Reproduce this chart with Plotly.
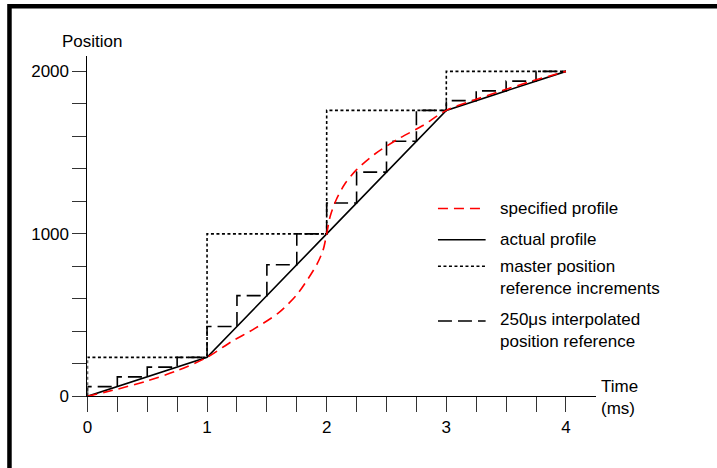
import plotly.graph_objects as go

# ---- data ----
ms_points = [0, 1, 2, 3, 4]
actual_pos = [0, 240, 1000, 1760, 2000]

interp_t = [0, 0.25, 0.5, 0.75, 1.0, 1.25, 1.5, 1.75, 2.0, 2.25, 2.5, 2.75, 3.0, 3.25, 3.5, 3.75, 4.0]
interp_pos = [0, 60, 120, 180, 240, 430, 620, 810, 1000, 1190, 1380, 1570, 1760, 1820, 1880, 1940, 2000]

spec_t = [0, 0.25, 0.5, 0.75, 1.0, 1.2, 1.4, 1.6, 1.75, 1.85, 1.92, 1.97, 2.0,
          2.03, 2.08, 2.15, 2.25, 2.4, 2.6, 2.8, 3.0, 3.25, 3.5, 3.75, 4.0]
spec_pos = [0, 44, 95, 158, 240, 335, 418, 515, 625, 730, 815, 900, 1000,
            1110, 1210, 1305, 1395, 1490, 1585, 1665, 1760, 1828, 1890, 1948, 2000]

x_tick_vals = [0, 0.25, 0.5, 0.75, 1, 1.25, 1.5, 1.75, 2, 2.25, 2.5, 2.75, 3, 3.25, 3.5, 3.75, 4]
x_tick_text = ["0", "", "", "", "1", "", "", "", "2", "", "", "", "3", "", "", "", "4"]
y_tick_vals = [0, 200, 400, 600, 800, 1000, 1200, 1400, 1600, 1800, 2000]
y_tick_text = ["0", "", "", "", "", "1000", "", "", "", "", "2000"]

legend_labels = ["specified profile", "actual profile", "master position<br>reference increments",
                 "250\u03bcs interpolated<br>position reference"]

W, H = 717, 468
FONT = "Liberation Sans, Arial, sans-serif"
LW = 1.6

fig = go.Figure()
fig.add_trace(go.Scatter(x=ms_points, y=actual_pos, mode="lines", line_shape="vh",
                         line=dict(color="black", width=LW, dash="3px,2.5px"), hoverinfo="skip"))
fig.add_trace(go.Scatter(x=interp_t, y=interp_pos, mode="lines", line_shape="vh",
                         line=dict(color="black", width=LW, dash="14px,6px"), hoverinfo="skip"))
fig.add_trace(go.Scatter(x=ms_points, y=actual_pos, mode="lines",
                         line=dict(color="black", width=LW), hoverinfo="skip"))
fig.add_trace(go.Scatter(x=spec_t, y=spec_pos, mode="lines", line_shape="spline",
                         line=dict(color="#ff0000", width=LW, dash="10px,6px", smoothing=0.8),
                         hoverinfo="skip"))

x0p, x1p = 83 / W, 595 / W
y0p, y1p = (H - 405) / H, (H - 57) / H

fig.update_layout(
    width=W, height=H, margin=dict(l=0, r=0, t=0, b=0),
    paper_bgcolor="white", plot_bgcolor="white", showlegend=False,
    font=dict(family=FONT, size=17, color="black"),
    xaxis=dict(domain=[x0p, x1p], range=[0, 4.25], showgrid=False, zeroline=False,
               showline=True, linecolor="black", linewidth=1,
               ticks="outside", ticklen=15, tickwidth=1, tickcolor="#333",
               tickvals=x_tick_vals, ticktext=x_tick_text, tickfont=dict(size=17)),
    yaxis=dict(domain=[y0p, y1p], range=[0, 2096], showgrid=False, zeroline=False,
               showline=True, linecolor="black", linewidth=1,
               ticks="outside", ticklen=14, tickwidth=1, tickcolor="#333",
               tickvals=y_tick_vals, ticktext=y_tick_text, tickfont=dict(size=17)),
)

def px(xp):
    return xp / W

def py(yp):
    return (H - yp) / H

# Border frame
fig.add_shape(type="rect", xref="paper", yref="paper", x0=px(4.5), x1=px(730), y0=py(6.5), y1=py(490),
              line=dict(color="black", width=4.5), fillcolor="rgba(0,0,0,0)")

# Axis titles
fig.add_annotation(xref="paper", yref="paper", x=px(55), y=py(42), text="Position", showarrow=False,
                   xanchor="left", yanchor="middle", font=dict(size=17))
fig.add_annotation(xref="paper", yref="paper", x=px(598), y=py(406), text="Time<br>(ms)", showarrow=False,
                   xanchor="left", yanchor="middle", align="left", font=dict(size=17))

# Legend (manual)
leg_rows = [213, 245, 272, 328]
leg_text_y = [213, 245, 284, 338]
leg_styles = [dict(color="#ff0000", dash="10px,6px"), dict(color="black", dash="solid"),
              dict(color="black", dash="3px,2.5px"), dict(color="black", dash="14px,6px")]
for i in range(4):
    fig.add_shape(type="line", xref="paper", yref="paper", x0=px(436), x1=px(484),
                  y0=py(leg_rows[i]), y1=py(leg_rows[i]),
                  line=dict(width=LW, **leg_styles[i]))
    fig.add_annotation(xref="paper", yref="paper", x=px(496), y=py(leg_text_y[i]), text=legend_labels[i],
                       showarrow=False, xanchor="left", yanchor="middle", align="left",
                       font=dict(size=17))

post = ("document.body.style.margin='0';document.body.style.padding='0';"
        "document.body.style.overflow='hidden';")
fig.write_html("out.html", post_script=post, config={"displayModeBar": False})
